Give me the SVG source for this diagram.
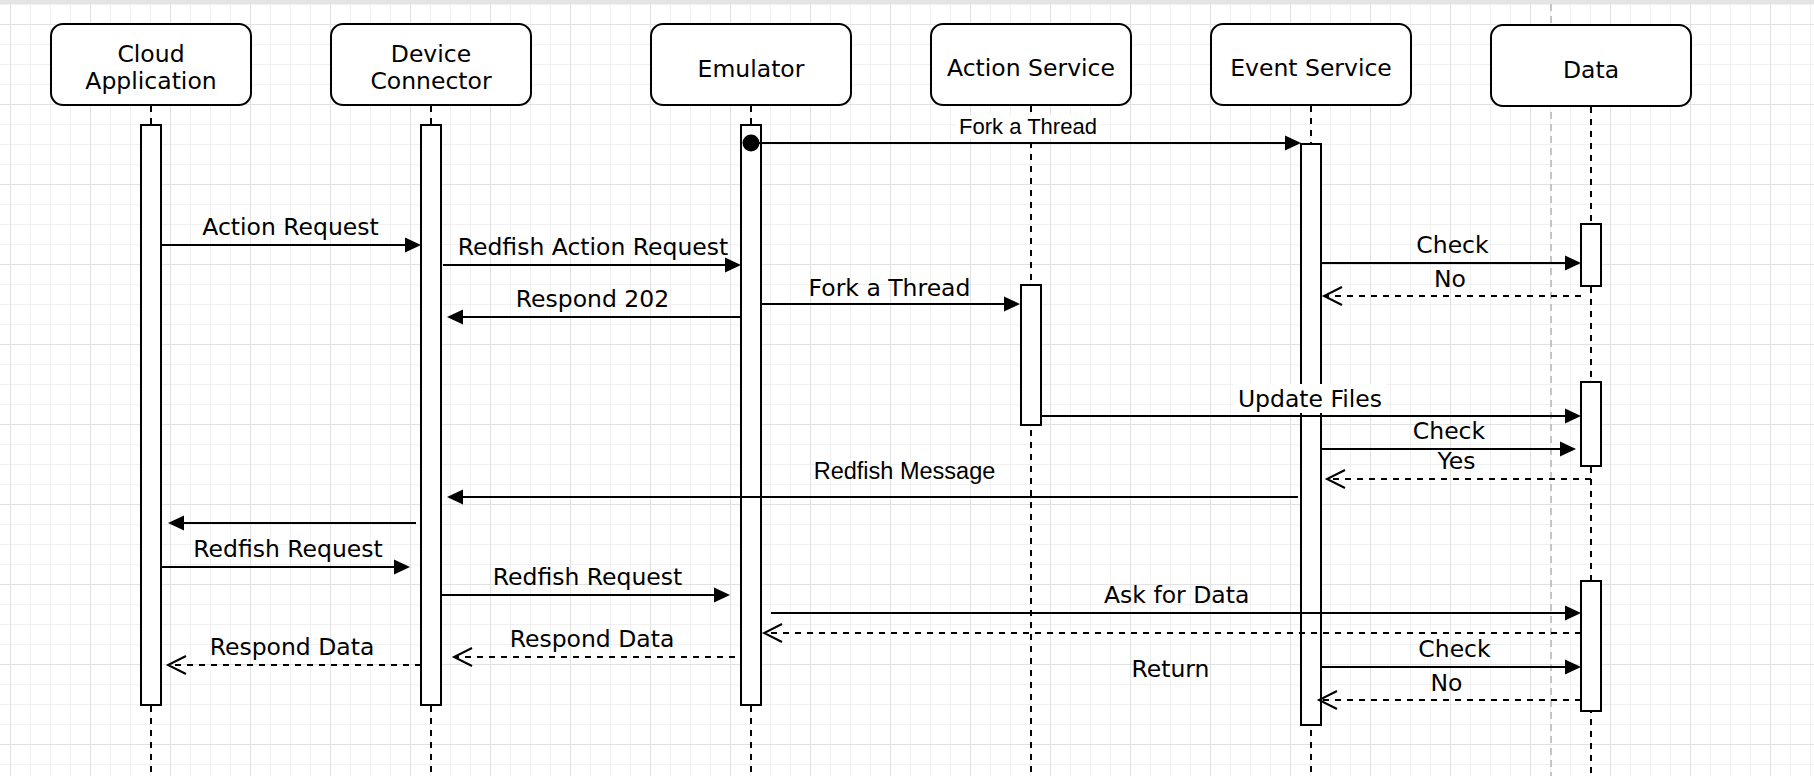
<svg xmlns="http://www.w3.org/2000/svg" width="1814" height="776" viewBox="0 0 1814 776">
<style>
.head{fill:#fff;stroke:#000;stroke-width:2}
.bar{fill:#fff;stroke:#000;stroke-width:2}
.life{stroke:#000;stroke-width:2;stroke-dasharray:6 6;fill:none}
.msg{stroke:#000;stroke-width:2;fill:none;marker-end:url(#block)}
.ret{stroke:#000;stroke-width:2;fill:none;stroke-dasharray:6 6;marker-end:url(#open)}
.t{font-family:"DejaVu Sans",Verdana,sans-serif;font-size:23.5px;fill:#000;text-anchor:middle}
.h{font-family:"Liberation Sans",Arial,Helvetica,sans-serif;fill:#000;text-anchor:middle}
.bg{fill:#fff}
</style>
<defs>
<pattern id="grid" x="10" y="24" width="80" height="80" patternUnits="userSpaceOnUse">
<rect x="0" y="0" width="80" height="80" fill="#fff"/>
<rect x="20" y="0" width="1" height="80" fill="#f0f0f0"/>
<rect x="40" y="0" width="1" height="80" fill="#f0f0f0"/>
<rect x="60" y="0" width="1" height="80" fill="#f0f0f0"/>
<rect x="0" y="20" width="80" height="1" fill="#f0f0f0"/>
<rect x="0" y="40" width="80" height="1" fill="#f0f0f0"/>
<rect x="0" y="60" width="80" height="1" fill="#f0f0f0"/>
<rect x="0" y="0" width="1" height="80" fill="#e2e2e2"/>
<rect x="0" y="0" width="80" height="1" fill="#e2e2e2"/>
</pattern>
<marker id="block" markerUnits="userSpaceOnUse" viewBox="-10 -9 20 18" markerWidth="20" markerHeight="18" refX="0" refY="0" orient="auto">
<path d="M-8,-7.5 L8,0 L-8,7.5 Z" fill="#000"/>
</marker>
<marker id="open" markerUnits="userSpaceOnUse" viewBox="-21 -11 24 22" markerWidth="24" markerHeight="22" refX="0" refY="0" orient="auto">
<path d="M-18,-9 L0,0 L-18,9" fill="none" stroke="#000" stroke-width="2"/>
</marker>
</defs>

<rect x="0" y="0" width="1814" height="776" fill="url(#grid)"/>
<rect x="0" y="0" width="1814" height="4" fill="#e4e4e4"/>
<line x1="1551" y1="4" x2="1551" y2="776" stroke="#c4c4c4" stroke-width="2" stroke-dasharray="7 5"/>

<g id="cloud-application">
<line class="life" x1="151" y1="106" x2="151" y2="776"/>
<rect class="head" x="51" y="24" width="200" height="81" rx="12"/>
<text class="t" x="151" y="61.5">Cloud</text>
<text class="t" x="151" y="89">Application</text>
<rect class="bar" x="141" y="125" width="20" height="580"/>
</g>

<g id="device-connector">
<line class="life" x1="431" y1="106" x2="431" y2="776"/>
<rect class="head" x="331" y="24" width="200" height="81" rx="12"/>
<text class="t" x="431" y="61.5">Device</text>
<text class="t" x="431" y="89">Connector</text>
<rect class="bar" x="421" y="125" width="20" height="580"/>
</g>

<g id="emulator">
<line class="life" x1="751" y1="106" x2="751" y2="776"/>
<rect class="head" x="651" y="24" width="200" height="81" rx="12"/>
<text class="t" x="751" y="76.5">Emulator</text>
<rect class="bar" x="741" y="125" width="20" height="580"/>
</g>

<g id="action-service">
<line class="life" x1="1031" y1="106" x2="1031" y2="776"/>
<rect class="head" x="931" y="24" width="200" height="81" rx="12"/>
<text class="t" x="1031" y="76">Action Service</text>
<rect class="bar" x="1021" y="285" width="20" height="140"/>
</g>

<g id="event-service">
<line class="life" x1="1311" y1="106" x2="1311" y2="776"/>
<rect class="head" x="1211" y="24" width="200" height="81" rx="12"/>
<text class="t" x="1311" y="76">Event Service</text>
<rect class="bar" x="1301" y="144" width="20" height="581"/>
</g>

<g id="data">
<line class="life" x1="1591" y1="107" x2="1591" y2="776"/>
<rect class="head" x="1491" y="25" width="200" height="81" rx="12"/>
<text class="t" x="1591" y="77.5">Data</text>
<rect class="bar" x="1581" y="224" width="20" height="62"/>
<rect class="bar" x="1581" y="382" width="20" height="84"/>
<rect class="bar" x="1581" y="581" width="20" height="130"/>
</g>

<g id="connectors">
<g id="m-fork-event">
<circle cx="751" cy="143" r="8.5" fill="#000"/>
<path class="msg" d="M751,143 H1293"/>
<rect class="bg" x="956" y="115" width="144" height="24"/>
<text class="h" x="1028" y="134" font-size="22">Fork a Thread</text>
</g>
<g id="m-action-request">
<path class="msg" d="M161,245 H413"/>
<text class="t" x="290.5" y="235">Action Request</text>
</g>
<g id="m-redfish-action-request">
<path class="msg" d="M443,265 H733"/>
<text class="t" x="593" y="255">Redfish Action Request</text>
</g>
<g id="m-respond-202">
<path class="msg" d="M741,317 H455"/>
<text class="t" x="592.5" y="306.5">Respond 202</text>
</g>
<g id="m-fork-action">
<path class="msg" d="M761,304 H1012"/>
<text class="t" x="889.5" y="296">Fork a Thread</text>
</g>
<g id="m-check-1">
<path class="msg" d="M1321,263 H1573"/>
<text class="t" x="1452.5" y="253.3">Check</text>
</g>
<g id="m-no-1">
<path class="ret" d="M1581,296 H1324"/>
<text class="t" x="1450" y="287.3">No</text>
</g>
<g id="m-update-files">
<path class="msg" d="M1041,416 H1573"/>
<rect class="bg" x="1234" y="384" width="152" height="29"/>
<text class="t" x="1310" y="407.3">Update Files</text>
</g>
<g id="m-check-2">
<path class="msg" d="M1321,449 H1568"/>
<text class="t" x="1449" y="439.3">Check</text>
</g>
<g id="m-yes">
<path class="ret" d="M1591,479 H1327"/>
<text class="t" x="1456.5" y="469.3">Yes</text>
</g>
<g id="m-redfish-message">
<path class="msg" d="M1298,497 H455"/>
<text class="h" x="904.5" y="479.3" font-size="23.5">Redfish Message</text>
</g>
<g id="m-forward">
<path class="msg" d="M416,523 H176"/>
</g>
<g id="m-redfish-request-1">
<path class="msg" d="M161,567 H402"/>
<text class="t" x="288" y="556.7">Redfish Request</text>
</g>
<g id="m-redfish-request-2">
<path class="msg" d="M441,595 H722"/>
<text class="t" x="587.5" y="585">Redfish Request</text>
</g>
<g id="m-ask-for-data">
<path class="msg" d="M771,613 H1573"/>
<text class="t" x="1176.7" y="603.3">Ask for Data</text>
</g>
<g id="m-return">
<path class="ret" d="M1581,633 H764"/>
<text class="t" x="1170.5" y="677.3">Return</text>
</g>
<g id="m-check-3">
<path class="msg" d="M1321,667 H1573"/>
<text class="t" x="1454.5" y="657.3">Check</text>
</g>
<g id="m-no-2">
<path class="ret" d="M1581,700 H1319"/>
<text class="t" x="1446.5" y="690.7">No</text>
</g>
<g id="m-respond-data-1">
<path class="ret" d="M735,657 H454"/>
<text class="t" x="592" y="646.7">Respond Data</text>
</g>
<g id="m-respond-data-2">
<path class="ret" d="M421,665 H168"/>
<text class="t" x="292" y="655">Respond Data</text>
</g>
</g>
</svg>
